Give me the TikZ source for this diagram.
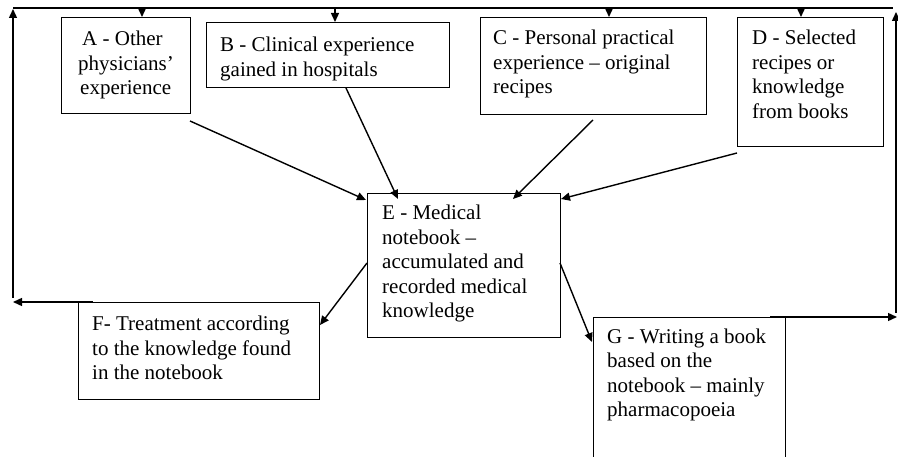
\documentclass[tikz,border=0pt]{standalone}
\usepackage{fontspec}
\setmainfont{Liberation Serif}
\usetikzlibrary{arrows.meta}
\tikzset{
  box/.style={draw, line width=1.3pt, anchor=north west, inner sep=0pt},
  txt/.style={anchor=base west, inner sep=0pt, align=left, font=\fontsize{21}{24.5}\selectfont},
  arr/.style={line width=1.4pt, -{Triangle[length=9pt,width=8pt]}},
  ln/.style={line width=1.4pt}
}
\begin{document}
\begin{tikzpicture}[x=1pt,y=-1pt]
\clip (0,0) rectangle (898,457);
\fill[white] (0,0) rectangle (898,457);
% boxes
\node[box, minimum width=129pt, minimum height=96pt] (A) at (61,17) {};
\node[box, minimum width=243pt, minimum height=65pt] (B) at (206,22) {};
\node[box, minimum width=226pt, minimum height=97pt] (C) at (480,17) {};
\node[box, minimum width=146pt, minimum height=129pt] (D) at (737,17) {};
\node[box, minimum width=193pt, minimum height=144pt] (E) at (367,193) {};
\node[box, minimum width=241pt, minimum height=97pt] (F) at (78,302) {};
\node[box, minimum width=192pt, minimum height=160pt] (G) at (593,317) {};
% texts (anchored at the baseline of the last line)
\node[txt] (At) at (78,95) {\hspace*{4pt}A - Other\\physicians'\\\hspace*{2pt}experience};
\node[txt] (Bt) at (220,76.5) {B - Clinical experience\\gained in hospitals};
\node[txt] (Ct) at (493,94) {C - Personal practical\\experience -- original\\recipes};
\node[txt] (Dt) at (752,118.5) {D - Selected\\recipes or\\knowledge\\from books};
\node[txt] (Et) at (382,318) {E - Medical\\notebook --\\accumulated and\\recorded medical\\knowledge};
\node[txt] (Ft) at (92,380) {F- Treatment according\\to the knowledge found\\in the notebook};
\node[txt] (Gt) at (607,416.5) {G - Writing a book\\based on the\\notebook -- mainly\\pharmacopoeia};
% feedback loop coordinates
\coordinate (TL) at (13,8);
\coordinate (TR) at (893,8);
\coordinate (Fout) at (93,302);
\coordinate (Lcorner) at (13,302);
\coordinate (Gout) at (770,317);
\coordinate (Rcorner) at (897,317);
\coordinate (TA) at (142,8);
\coordinate (TB) at (335,8);
\coordinate (TC) at (609,8);
\coordinate (TD) at (801,8);
\draw[ln] (TL) -- (TR);
\draw[arr] (Fout) -- (Lcorner);
\draw[arr] (13,298) -- (13,9);
\draw[arr] (Gout) -- (Rcorner);
\draw[arr] (896,313) -- (896,12);
% down arrows from top line
\draw[arr] (TA) -- (TA |- A.north);
\draw[arr] (TB) -- (TB |- B.north);
\draw[arr] (TC) -- (TC |- C.north);
\draw[arr] (TD) -- (TD |- D.north);
% into E
\draw[arr] (190,121) -- (366,200);
\draw[arr] (346,88) -- (398,199);
\draw[arr] (593,120) -- (513,199);
\draw[arr] (737,153) -- (561,199);
% out of E
\draw[arr] (367,263) -- (320,325);
\draw[arr] (560,263) -- (592,342);
\end{tikzpicture}
\end{document}
